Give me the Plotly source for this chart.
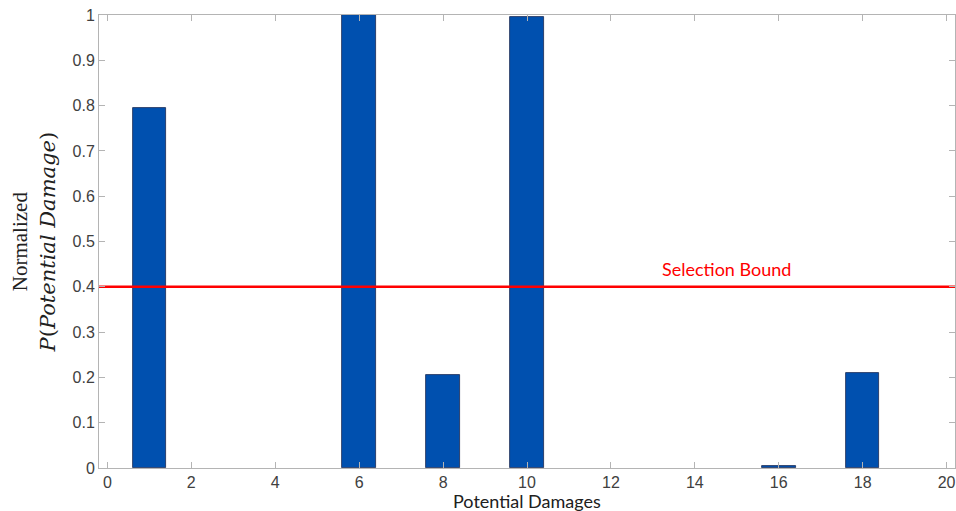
import plotly.graph_objects as go

damages = [1, 6, 8, 10, 16, 18]
probabilities = [0.795, 1.0, 0.205, 0.995, 0.005, 0.21]
bound_value = 0.4
bound_label = "Selection Bound"
x_ticks = list(range(0, 21, 2))
y_ticks = [round(i * 0.1, 1) for i in range(11)]

fig = go.Figure()
fig.add_trace(go.Bar(
    x=damages, y=probabilities, width=0.8,
    marker=dict(color="#0050AF", line=dict(color="#1a2a50", width=0.8)),
    showlegend=False,
))
fig.add_trace(go.Scatter(
    x=[-0.2, 20.2], y=[bound_value, bound_value], mode="lines",
    line=dict(color="#FF0000", width=2.5), showlegend=False, cliponaxis=True,
))

axis_common = dict(
    showline=True, linecolor="#b4b4b4", linewidth=1, mirror="ticks",
    ticks="inside", ticklen=6, tickcolor="#b4b4b4", showgrid=False, zeroline=False,
    ticklabeloverflow="allow", automargin=False,
)
fig.update_xaxes(range=[-0.2, 20.2], tickvals=x_ticks,
                 tickfont=dict(family="Liberation Sans Narrow, Liberation Sans", size=16, color="#404040"),
                 **axis_common)
fig.update_yaxes(range=[0, 1], tickvals=y_ticks,
                 ticktext=["0" if v == 0 else ("1" if v == 1 else str(v)) for v in y_ticks],
                 tickfont=dict(family="Liberation Sans", size=16, color="#404040"),
                 **axis_common)

fig.add_annotation(x=14.75, y=bound_value, xref="x", yref="y", text=bound_label,
                   showarrow=False, yanchor="bottom", yshift=5,
                   font=dict(family="Lato", size=18, color="#FF0000"))
fig.add_annotation(x=0.5, y=-0.072, xref="paper", yref="paper", text="Potential Damages",
                   showarrow=False, yanchor="middle",
                   font=dict(family="Lato", size=18, color="#202020"))
fig.add_annotation(x=-0.076, y=0.5, xref="paper", yref="paper",
                   text="<span style='font-family:Liberation Serif'>Normalized</span><br>"
                        "<i>P</i>(<i>Potential Damage</i>)",
                   textangle=-90, showarrow=False, xanchor="center",
                   font=dict(family="DejaVu Serif", size=21, color="#202020"))

fig.update_layout(
    width=956, height=511,
    margin=dict(l=99, r=1, t=15, b=43),
    plot_bgcolor="white", paper_bgcolor="white",
    bargap=0,
)
fig.write_html(
    "out.html",
    config={"displayModeBar": False},
    post_script="document.body.style.margin='0';document.body.style.overflow='hidden';",
)
